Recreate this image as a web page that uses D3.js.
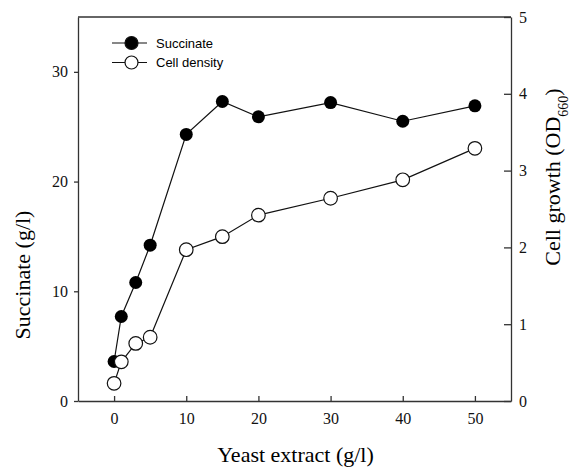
<!DOCTYPE html>
<html>
<head>
<meta charset="utf-8">
<script src="https://cdn.jsdelivr.net/npm/d3@7"></script>
<style>
  body { margin: 0; background: #fff; }
  svg { display: block; }
  .axis text { font-family: "Liberation Serif", serif; font-size: 16px; fill: #111; }
  .axis path, .axis line { stroke: #333; stroke-width: 1.3; }
</style>
</head>
<body>
<div id="chart"></div>
<script>
// data
const yeast = [0, 1, 3, 5, 10, 15, 20, 30, 40, 50];
const succinate = [3.6, 7.7, 10.8, 14.2, 24.3, 27.3, 25.9, 27.2, 25.5, 26.9];
const cellDensity = [0.23, 0.51, 0.75, 0.83, 1.97, 2.14, 2.42, 2.64, 2.88, 3.29];
const xTicks = [0, 10, 20, 30, 40, 50];
const leftTicks = [0, 10, 20, 30];
const rightTicks = [0, 1, 2, 3, 4, 5];
const seriesNames = ["Succinate", "Cell density"];

const width = 574, height = 473;
const margin = { top: 17, right: 63, bottom: 72, left: 78 };

const svg = d3.select("#chart").append("svg")
  .attr("width", width)
  .attr("height", height);

const x = d3.scaleLinear().domain([-5, 55]).range([margin.left, width - margin.right]);
const yL = d3.scaleLinear().domain([0, 35]).range([height - margin.bottom, margin.top]);
const yR = d3.scaleLinear().domain([0, 5]).range([height - margin.bottom, margin.top]);

// frame (top line)
svg.append("line")
  .attr("x1", margin.left).attr("x2", width - margin.right)
  .attr("y1", margin.top).attr("y2", margin.top)
  .attr("stroke", "#333").attr("stroke-width", 1.3);

// axes
svg.append("g").attr("class", "axis")
  .attr("transform", `translate(0,${height - margin.bottom})`)
  .call(d3.axisBottom(x).tickValues(xTicks).tickFormat(d3.format("d"))
    .tickSizeInner(-5).tickSizeOuter(0).tickPadding(12));

svg.append("g").attr("class", "axis")
  .attr("transform", `translate(${margin.left},0)`)
  .call(d3.axisLeft(yL).tickValues(leftTicks).tickFormat(d3.format("d"))
    .tickSizeInner(4).tickSizeOuter(0).tickPadding(6));

svg.append("g").attr("class", "axis")
  .attr("transform", `translate(${width - margin.right},0)`)
  .call(d3.axisRight(yR).tickValues(rightTicks).tickFormat(d3.format("d"))
    .tickSizeInner(-7).tickSizeOuter(0).tickPadding(8));

// axis titles
const serif = "Liberation Serif, serif";
svg.append("text")
  .attr("x", (margin.left + width - margin.right) / 2 + 1)
  .attr("y", 462)
  .attr("text-anchor", "middle")
  .style("font-family", serif).style("font-size", "22px")
  .text("Yeast extract (g/l)");

svg.append("text")
  .attr("transform", `translate(30,${(margin.top + height - margin.bottom) / 2 + 66}) rotate(-90)`)
  .attr("text-anchor", "middle")
  .style("font-family", serif).style("font-size", "22px")
  .text("Succinate (g/l)");

const rt = svg.append("text")
  .attr("transform", `translate(560,177) rotate(-90)`)
  .attr("text-anchor", "middle")
  .style("font-family", serif).style("font-size", "22px");
rt.append("tspan").text("Cell growth (OD");
rt.append("tspan").attr("baseline-shift", "sub").style("font-size", "14px").text("660");
rt.append("tspan").text(")");

// series
const line = (yScale, vals) => d3.line()
  .x((d, i) => x(yeast[i]))
  .y((d, i) => yScale(vals[i]));

svg.append("path")
  .datum(succinate)
  .attr("fill", "none").attr("stroke", "#111").attr("stroke-width", 1.2)
  .attr("d", line(yL, succinate));

svg.append("path")
  .datum(cellDensity)
  .attr("fill", "none").attr("stroke", "#111").attr("stroke-width", 1.2)
  .attr("d", line(yR, cellDensity));

svg.selectAll(".succ")
  .data(succinate)
  .enter().append("circle")
  .attr("class", "succ")
  .attr("cx", (d, i) => x(yeast[i]))
  .attr("cy", d => yL(d))
  .attr("r", 6.5)
  .attr("fill", "#000");

svg.selectAll(".cell")
  .data(cellDensity)
  .enter().append("circle")
  .attr("class", "cell")
  .attr("cx", (d, i) => x(yeast[i]))
  .attr("cy", d => yR(d))
  .attr("r", 6.8)
  .attr("fill", "#fff")
  .attr("stroke", "#111").attr("stroke-width", 1.2);

// legend
const legend = svg.append("g").attr("transform", "translate(112,43)");
seriesNames.forEach((name, i) => {
  const g = legend.append("g").attr("transform", `translate(0,${i * 19.5})`);
  g.append("line").attr("x1", 0).attr("x2", 35).attr("y1", 0).attr("y2", 0)
    .attr("stroke", "#111").attr("stroke-width", 1.2);
  g.append("circle").attr("cx", 19.5).attr("cy", 0).attr("r", 6.5)
    .attr("fill", i === 0 ? "#000" : "#fff")
    .attr("stroke", "#111").attr("stroke-width", 1.2);
  g.append("text").attr("x", 44).attr("y", 4.5)
    .style("font-family", "Liberation Sans, Arial, sans-serif")
    .style("font-size", "13px")
    .text(name);
});
</script>
</body>
</html>
